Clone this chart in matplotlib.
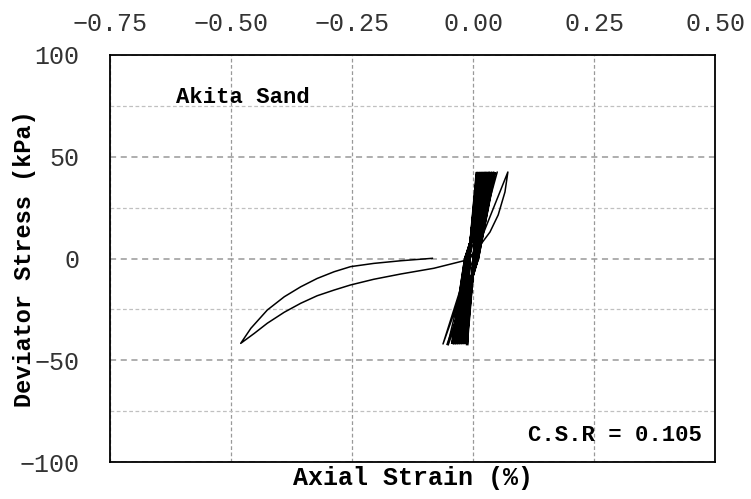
import numpy as np
import matplotlib
matplotlib.use("Agg")
import matplotlib.pyplot as plt
from matplotlib.ticker import MultipleLocator

# first (large) loop
first_strain = [-0.084, -0.149, -0.205, -0.253, -0.287, -0.322, -0.356, -0.390, -0.425, -0.459, -0.480,
                -0.452, -0.425, -0.390, -0.356, -0.322, -0.287, -0.253, -0.205, -0.149, -0.081, -0.012]
first_stress = [0.1, -1.1, -2.4, -4.0, -6.5, -9.8, -13.9, -18.8, -25.3, -34.3, -41.7,
                -36.8, -31.8, -26.4, -22.0, -18.3, -15.5, -13.0, -10.2, -7.6, -4.8, -0.7]

# next two cycles (thin loops on the right / left of the band)
next_strain = [0.015, 0.035, 0.052, 0.066, 0.072, 0.014, -0.006, -0.062, 0.001, 0.050, -0.010, -0.052]
next_stress = [6.6, 13.0, 21.4, 32.7, 42.5, 8.0, 0.0, -42.0, 0.0, 42.5, 0.0, -42.0]

# remaining cycles (dense band): peak strains and zero-stress crossings
band_top = [0.045, 0.044, 0.041, 0.040, 0.037, 0.036, 0.034, 0.033, 0.031, 0.029, 0.028, 0.026, 0.025,
            0.023, 0.022, 0.020, 0.019, 0.017, 0.016, 0.015, 0.013, 0.012, 0.011, 0.010, 0.009, 0.008]
band_bot = [-0.043, -0.042, -0.041, -0.039, -0.038, -0.037, -0.035, -0.034, -0.033, -0.031, -0.030, -0.029, -0.027,
            -0.026, -0.025, -0.024, -0.022, -0.021, -0.020, -0.019, -0.017, -0.016, -0.015, -0.014, -0.013, -0.012]
band_up0 = [0.010, 0.010, 0.009, 0.009, 0.008, 0.008, 0.008, 0.007, 0.007, 0.007, 0.006, 0.006, 0.006,
            0.005, 0.005, 0.005, 0.004, 0.004, 0.004, 0.003, 0.003, 0.003, 0.002, 0.002, 0.002, 0.002]
band_dn0 = [-0.016, -0.016, -0.015, -0.015, -0.015, -0.014, -0.014, -0.013, -0.013, -0.013, -0.012, -0.012, -0.012,
            -0.011, -0.011, -0.011, -0.010, -0.010, -0.010, -0.009, -0.009, -0.009, -0.008, -0.008, -0.008, -0.008]
q_top = 42.5
q_bot = -42.0

strain = list(first_strain) + list(next_strain)
stress = list(first_stress) + list(next_stress)
band_x, band_y = [next_strain[-1]], [next_stress[-1]]
for t, b, u, d in zip(band_top, band_bot, band_up0, band_dn0):
    band_x += [u, t, d, b]
    band_y += [0.0, q_top, 0.0, q_bot]

fig = plt.figure(figsize=(7.51, 4.99), dpi=100)
ax = fig.add_axes([0.1465, 0.0741, 0.8056, 0.8157])

ax.plot(strain, stress, color="black", lw=1.1)
ax.plot(band_x, band_y, color="black", lw=2.0, solid_joinstyle="miter")

ax.set_xlim(-0.75, 0.5)
ax.set_ylim(-100, 100)
ax.xaxis.set_major_locator(MultipleLocator(0.25))
ax.yaxis.set_major_locator(MultipleLocator(50))
ax.yaxis.set_minor_locator(MultipleLocator(25))
ax.xaxis.tick_top()
ax.tick_params(which="both", length=0)
ax.tick_params(axis="x", pad=14)
ax.tick_params(axis="y", pad=22)
ax.set_xticklabels([f"{v:.2f}".replace("-", "\u2212") for v in ax.get_xticks()])

tickfont = "Liberation Mono"
for lab in ax.get_xticklabels() + ax.get_yticklabels():
    lab.set_fontfamily(tickfont)
    lab.set_fontsize(18)
    lab.set_color("#333333")

ax.grid(True, axis="x", which="major", color="#999999", ls=(0, (3, 2)), lw=0.9)
ax.grid(True, axis="y", which="major", color="#999999", ls=(0, (4, 3)), lw=1.1)
ax.grid(True, axis="y", which="minor", color="#c0c0c0", ls=(0, (3, 2)), lw=0.9)
ax.set_axisbelow(True)
for s in ax.spines.values():
    s.set_linewidth(1.3)

ax.set_xlabel("Axial Strain (%)", fontfamily="Liberation Mono", fontweight="bold", fontsize=18)
ax.xaxis.set_label_position("bottom")
ax.xaxis.set_label_coords(0.5, -0.04)
ax.xaxis.label.set_verticalalignment("center")
ax.set_ylabel("Deviator Stress (kPa)", fontfamily="Liberation Mono", fontweight="bold", fontsize=17)
ax.yaxis.set_label_coords(-0.142, 0.5)
ax.yaxis.label.set_verticalalignment("center")

ax.text(-0.475, 79, "Akita Sand", fontfamily="Liberation Mono", fontweight="bold",
        fontsize=16, ha="center", va="center")
ax.text(0.473, -87, "C.S.R = 0.105", fontfamily="Liberation Mono", fontweight="bold",
        fontsize=16, ha="right", va="center")

fig.savefig("out.png", dpi=100)
